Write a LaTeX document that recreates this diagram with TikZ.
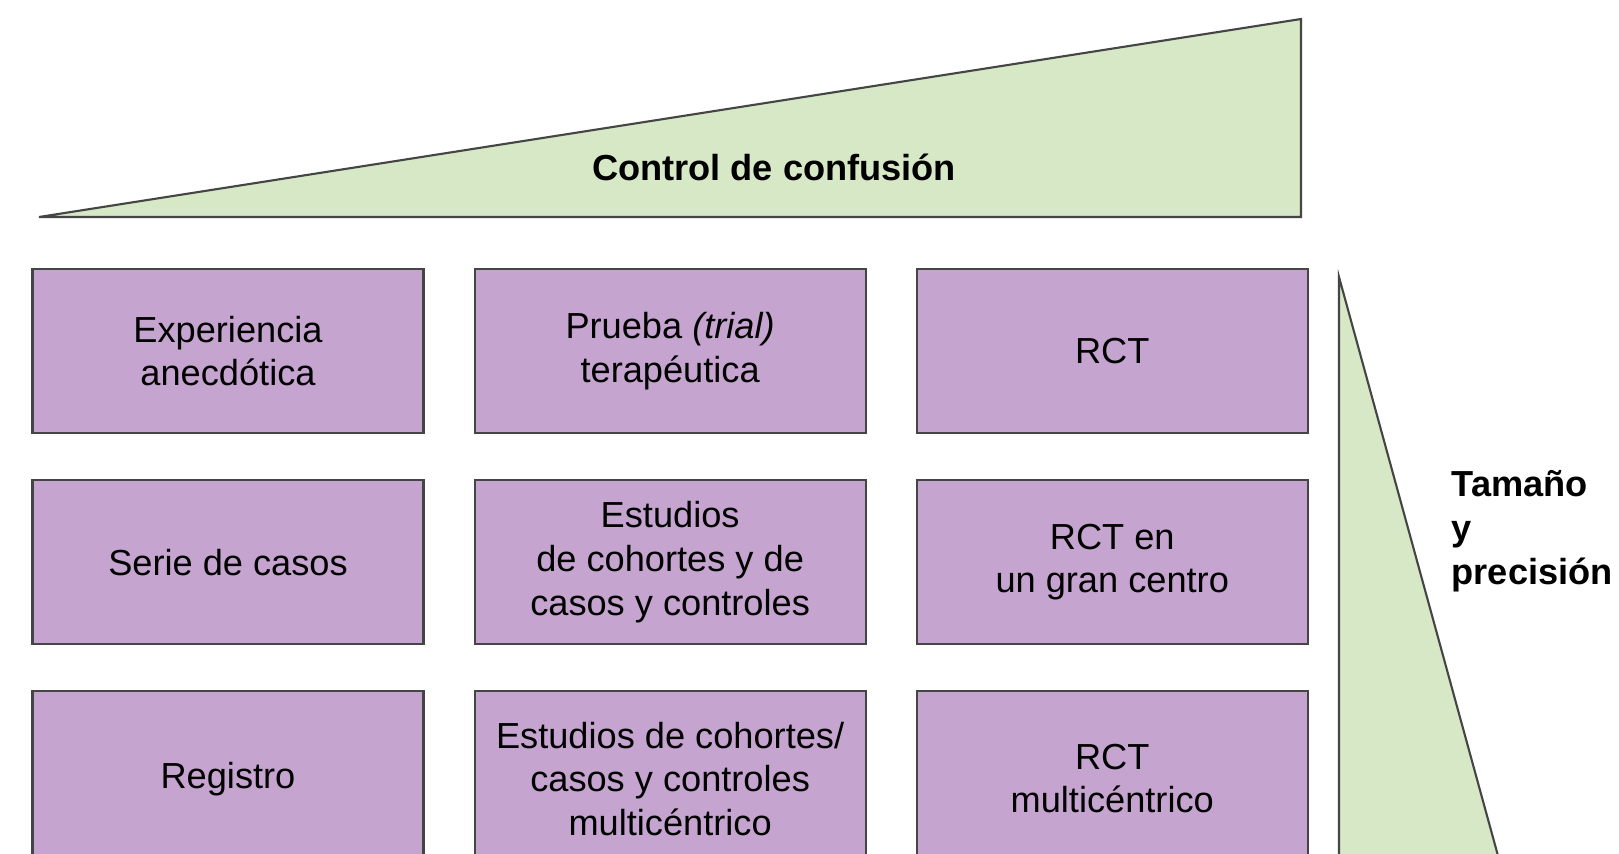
\documentclass[tikz,border=0pt]{standalone}
\usepackage{fontspec}
\setmainfont{Liberation Sans}
\usetikzlibrary{positioning}
\definecolor{wedgefill}{HTML}{D6E8C6}
\definecolor{studyfill}{HTML}{C5A4CF}
\definecolor{ink}{HTML}{454545}

\begin{document}
\begin{tikzpicture}[x=1cm,y=1cm, every node/.style={font=\fontsize{10.3}{12.4}\selectfont},
  study/.style={draw=ink, fill=studyfill, line width=.6pt, minimum width=3.91cm,
                minimum height=1.64cm, align=center, inner sep=0pt},
  lowrow/.style={study, minimum height=1.75cm},
  wedge/.style={draw=ink, fill=wedgefill, line width=.6pt, line join=miter},
  axislabel/.style={inner sep=0pt, align=left, font=\fontsize{10.3}{12.6}\selectfont\bfseries},
  node distance=.45cm and .49cm,
]
  \useasboundingbox (0,0) rectangle (16.19,8.53);
  \clip (0,0) rectangle (16.19,8.53);
  \fill[white] (0,0) rectangle (16.19,8.53);

  % Control de confusion
  \draw[wedge] (0.39,6.36) -- (13.01,6.36) -- (13.01,8.34) -- cycle;
  \node[axislabel] (ctrl) at (7.74,6.86) {Control de confusión};

  % Study designs
  \node[study] (anec) at (2.28,5.02) {Experiencia\\anecdótica};
  \node[study, right=of anec] (trial) {Prueba \textit{(trial)}\\terapéutica};
  \node[study, right=of trial] (rct) {RCT};
  \node[study, below=of anec] (serie) {Serie de casos};
  \node[study, below=of trial] (coh) {Estudios\\de cohortes y de\\casos y controles};
  \node[study, below=of rct] (rctbig) {RCT en\\un gran centro};
  \node[lowrow, below=.45cm of serie] (reg) {Registro};
  \node[lowrow, below=.45cm of coh] (cohmulti) {Estudios de cohortes/\\casos y controles\\multicéntrico};
  \node[lowrow, below=.45cm of rctbig] (rctmulti) {RCT\\multicéntrico};

  % Tamano y precision
  \draw[wedge] (13.39,5.76) -- (13.39,-0.1) -- (15.0,-0.1) -- cycle;
  \node[axislabel, anchor=west] (size) at (14.51,3.22) {Tamaño\\y\\precisión};
\end{tikzpicture}
\end{document}
